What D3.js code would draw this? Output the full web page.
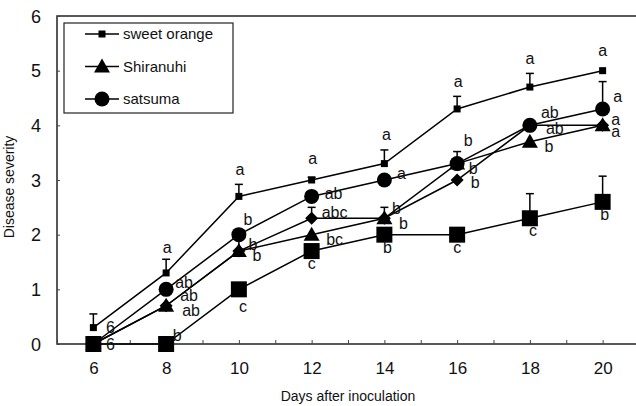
<!DOCTYPE html>
<html><head><meta charset="utf-8">
<script src="https://cdn.jsdelivr.net/npm/d3@7"></script>
<style>body{margin:0;background:#fff}svg{display:block}text{font-family:"Liberation Sans",Arial,sans-serif;fill:#111}</style>
</head><body><svg id="c" width="636" height="406"></svg>
<script>
const days = [6, 8, 10, 12, 14, 16, 18, 20];
const yTicks = [0, 1, 2, 3, 4, 5, 6];
const legendNames = ["sweet orange", "Shiranuhi", "satsuma"];

const sweetOrange = [0.3, 1.3, 2.7, 3.0, 3.3, 4.3, 4.7, 5.0];
const sweetOrangeErr = [0.25, 0.25, 0.22, 0.05, 0.25, 0.23, 0.25, 0];
const sweetOrangeLbl = ["", "a", "a", "a", "a", "a", "a", "a"];

const shiranuhi = [0, 0.7, 1.7, 2.0, 2.3, 3.3, 3.7, 4.0];
const shiranuhiErr = [0, 0, 0.25, 0, 0.2, 0.22, 0, 0];
const shiranuhiLbl = ["", "ab", "b", "bc", "b", "b", "b", "a"];

const satsuma = [0, 1.0, 2.0, 2.7, 3.0, 3.3, 4.0, 4.3];
const satsumaErr = [0, 0, 0, 0, 0, 0, 0, 0.5];
const satsumaLbl = ["6", "ab", "b", "ab", "a", "b", "ab", "a"];

const diamondSeries = [0, 0.7, 1.7, 2.3, 2.3, 3.0, 4.0, 4.0];
const diamondErr = [0, 0, 0, 0.2, 0, 0, 0, 0];
const diamondLbl = ["", "ab", "b", "abc", "b", "b", "ab", "a"];

const squareSeries = [0, 0, 1.0, 1.7, 2.0, 2.0, 2.3, 2.6];
const squareErr = [0, 0, 0, 0, 0, 0, 0.45, 0.47];
const squareLbl = ["6", "b", "c", "c", "b", "c", "c", "b"];

// label placement offsets (pixels, relative to point) — layout only
const sweetPos = [[0,0],[1,-26],[1,-27],[1,-22],[2,-29],[1,-28],[0,-29],[0,-20]];
const shiraPos = [[0,0],[23,-10],[18,4],[23,5],[19,5],[16,5],[19,5],[13,6]];
const satsuPos = [[17,-17],[18,-7],[9,-15],[22,-3],[17,-7],[11,-23],[20,-13],[15,-13]];
const diamPos  = [[0,0],[25,5],[14,-7],[23,-6],[12,-10],[18,2],[25,3],[13,-6]];
const squarePos= [[17,0],[11,-9],[4,17],[0,12],[3,13],[0,13],[3,12],[2,13]];

const svg = d3.select("#c");
const x = d3.scaleLinear().domain([5, 21]).range([57, 639]);
const y = d3.scaleLinear().domain([0, 6]).range([344, 16]);

// frame
svg.append("rect").attr("x", x(5)).attr("y", y(6)).attr("width", x(21) - x(5)).attr("height", y(0) - y(6))
  .attr("fill", "none").attr("stroke", "#222").attr("stroke-width", 1.5);

// axes
const xAxis = d3.axisBottom(x).tickValues(d3.range(5, 22)).tickSize(-4).tickPadding(18)
  .tickFormat(d => days.includes(d) ? d : "");
const gx = svg.append("g").attr("transform", `translate(0,${y(0)})`).call(xAxis);
gx.select(".domain").remove();
gx.selectAll("line").attr("stroke", "#444");
gx.selectAll("text").attr("font-size", 17).style("fill", "#111");

const yAxis = d3.axisLeft(y).tickValues(yTicks).tickSize(-3).tickPadding(16).tickFormat(d3.format("d"));
const gy = svg.append("g").attr("transform", `translate(${x(5)},0)`).call(yAxis);
gy.select(".domain").remove();
gy.selectAll("line").attr("stroke", "#444");
gy.selectAll("text").attr("font-size", 18).attr("dy", "0.35em").style("fill", "#111");

svg.append("text").attr("x", 348).attr("y", 401).attr("text-anchor", "middle").attr("font-size", 14)
  .text("Days after inoculation");
svg.append("text").attr("transform", "translate(14,187) rotate(-90)").attr("text-anchor", "middle")
  .attr("font-size", 14).text("Disease severity");

const line = d3.line().x(d => x(d[0])).y(d => y(d[1]));

function marker(g, type, cx, cy) {
  if (type === "smallsq") g.append("rect").attr("x", cx - 3.5).attr("y", cy - 3.5).attr("width", 7).attr("height", 7).attr("fill", "#000");
  else if (type === "square") g.append("rect").attr("x", cx - 8).attr("y", cy - 8).attr("width", 16).attr("height", 16).attr("fill", "#000");
  else if (type === "circle") g.append("circle").attr("cx", cx).attr("cy", cy).attr("r", 7.5).attr("fill", "#000");
  else if (type === "triangle") g.append("path").attr("d", `M${cx},${cy - 8}L${cx + 8},${cy + 6}L${cx - 8},${cy + 6}Z`).attr("fill", "#000");
  else if (type === "diamond") g.append("path").attr("d", `M${cx},${cy - 6.5}L${cx + 6.5},${cy}L${cx},${cy + 6.5}L${cx - 6.5},${cy}Z`).attr("fill", "#000");
}

const series = [
  {vals: squareSeries, err: squareErr, lbl: squareLbl, pos: squarePos, m: "square"},
  {vals: diamondSeries, err: diamondErr, lbl: diamondLbl, pos: diamPos, m: "diamond"},
  {vals: shiranuhi, err: shiranuhiErr, lbl: shiranuhiLbl, pos: shiraPos, m: "triangle"},
  {vals: satsuma, err: satsumaErr, lbl: satsumaLbl, pos: satsuPos, m: "circle"},
  {vals: sweetOrange, err: sweetOrangeErr, lbl: sweetOrangeLbl, pos: sweetPos, m: "smallsq"}
];

series.forEach(s => {
  const g = svg.append("g");
  const pts = days.map((d, i) => [d, s.vals[i]]);
  g.append("path").attr("d", line(pts)).attr("fill", "none").attr("stroke", "#000").attr("stroke-width", 1.5);
  pts.forEach((p, i) => {
    const e = s.err[i];
    if (e > 0) {
      g.append("line").attr("x1", x(p[0])).attr("x2", x(p[0])).attr("y1", y(p[1])).attr("y2", y(p[1] + e)).attr("stroke", "#000").attr("stroke-width", 1.5);
      g.append("line").attr("x1", x(p[0]) - 4).attr("x2", x(p[0]) + 4).attr("y1", y(p[1] + e)).attr("y2", y(p[1] + e)).attr("stroke", "#000").attr("stroke-width", 1.5);
    }
    marker(g, s.m, x(p[0]), y(p[1]));
    if (s.lbl[i]) {
      g.append("text").attr("x", x(p[0]) + s.pos[i][0]).attr("y", y(p[1]) + s.pos[i][1])
        .attr("dy", "0.35em").attr("text-anchor", "middle").attr("font-size", 16).text(s.lbl[i]);
    }
  });
});

// legend
const lg = svg.append("g");
lg.append("rect").attr("x", 64).attr("y", 23).attr("width", 169).attr("height", 90)
  .attr("fill", "#fff").attr("stroke", "#222").attr("stroke-width", 1.2);
const legendMarkers = ["smallsq", "triangle", "circle"];
legendNames.forEach((n, i) => {
  const cy = 34 + i * 32.5;
  lg.append("line").attr("x1", 85).attr("x2", 119).attr("y1", cy).attr("y2", cy).attr("stroke", "#000").attr("stroke-width", 1.5);
  marker(lg, legendMarkers[i], 102, cy);
  lg.append("text").attr("x", 123).attr("y", cy).attr("dy", "0.35em").attr("font-size", 15).text(n);
});
</script></body></html>
